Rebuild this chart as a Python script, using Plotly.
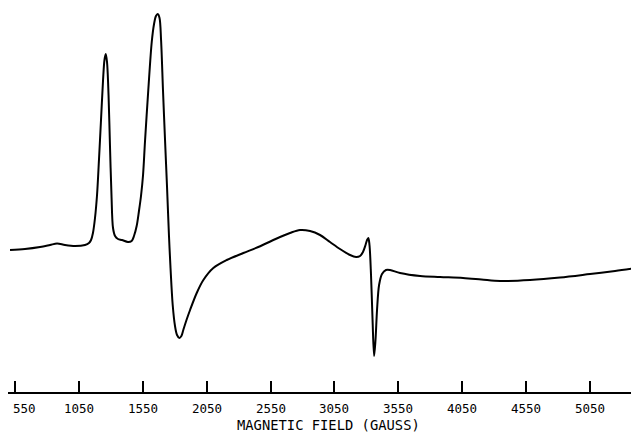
import plotly.graph_objects as go

# Magnetic field (Gauss) and EPR signal (arbitrary units)
field = [511, 628, 746, 824, 879, 941, 1020, 1098, 1129, 1145, 1160, 1176, 1192, 1207,
         1223, 1239, 1250, 1260, 1270, 1282, 1293, 1305, 1317, 1333, 1356, 1387, 1434,
         1463, 1481, 1502, 1520, 1536, 1552, 1567, 1593, 1620, 1638, 1653, 1667, 1681,
         1693, 1708, 1724, 1740, 1755, 1767, 1784, 1802, 1818, 1836, 1852, 1867, 1892,
         1920, 1972, 2024, 2102, 2207, 2337, 2454, 2624, 2702, 2780, 2859, 2937, 3015,
         3093, 3172, 3219, 3250, 3273, 3293, 3305, 3315, 3324, 3336, 3348, 3360, 3371,
         3383, 3399, 3422, 3453, 3485, 3563, 3720, 3876, 4056, 4200, 4346, 4580, 4815,
         5050, 5246, 5418]
signal = [142, 143, 145, 147, 148.5, 147, 146, 147, 149, 152, 159, 174, 197, 232,
          272, 312, 332, 338, 330, 297, 247, 197, 164, 156, 153, 152, 150,
          151, 156, 166, 181, 196, 217, 250, 302, 350, 368, 376, 378, 374,
          352, 302, 252, 204, 156, 124, 87, 66, 57, 54, 56, 62, 72,
          82, 99, 112, 124, 132, 139, 145, 155, 159, 162, 161, 157, 150,
          143, 137, 135, 136, 140, 147, 152, 154, 147, 117, 72, 36, 52,
          82, 107, 118, 122, 122, 119, 116, 115, 114, 112.5, 111, 112, 114.5,
          118, 121, 124]

tick_vals = [550, 1050, 1550, 2050, 2550, 3050, 3550, 4050, 4550, 5050]
tick_text = ["550", "1050", "1550", "2050", "2550", "3050", "3550",
             "4050", "4550", "5050"]
axis_title = "MAGNETIC FIELD (GAUSS)"

fig = go.Figure()
fig.add_trace(go.Scatter(
    x=field, y=signal, mode="lines",
    line=dict(color="black", width=2, shape="spline", smoothing=0.9),
    hoverinfo="skip", showlegend=False,
))

# tick labels as annotations (the first one sits a little right of its tick)
for i, (v, t) in enumerate(zip(tick_vals, tick_text)):
    fig.add_annotation(
        x=v, xref="x", y=0, yref="paper", text=t, showarrow=False,
        xanchor="center", yanchor="middle", yshift=-16,
        xshift=9 if i == 0 else 0,
        font=dict(size=12.5, family="DejaVu Sans Mono", color="black"),
    )

fig.add_annotation(
    x=0.508, xref="paper", y=0, yref="paper", text=axis_title, showarrow=False,
    xanchor="center", yanchor="middle", yshift=-33,
    font=dict(size=13.8, family="DejaVu Sans Mono", color="black"),
)

fig.update_layout(
    width=631, height=429,
    margin=dict(l=0, r=0, t=0, b=45),
    paper_bgcolor="white", plot_bgcolor="white",
    font=dict(family="DejaVu Sans Mono", color="black"),
    xaxis=dict(
        range=[495.2, 5433],
        automargin=False,
        showgrid=False, zeroline=False,
        showline=True, linecolor="black", linewidth=2,
        ticks="inside", ticklen=11, tickwidth=1.5, tickcolor="black",
        tickmode="array", tickvals=tick_vals, showticklabels=False,
    ),
    yaxis=dict(range=[0, 384], visible=False, automargin=False,
               showgrid=False, zeroline=False),
)

fig.write_html("out.html")
